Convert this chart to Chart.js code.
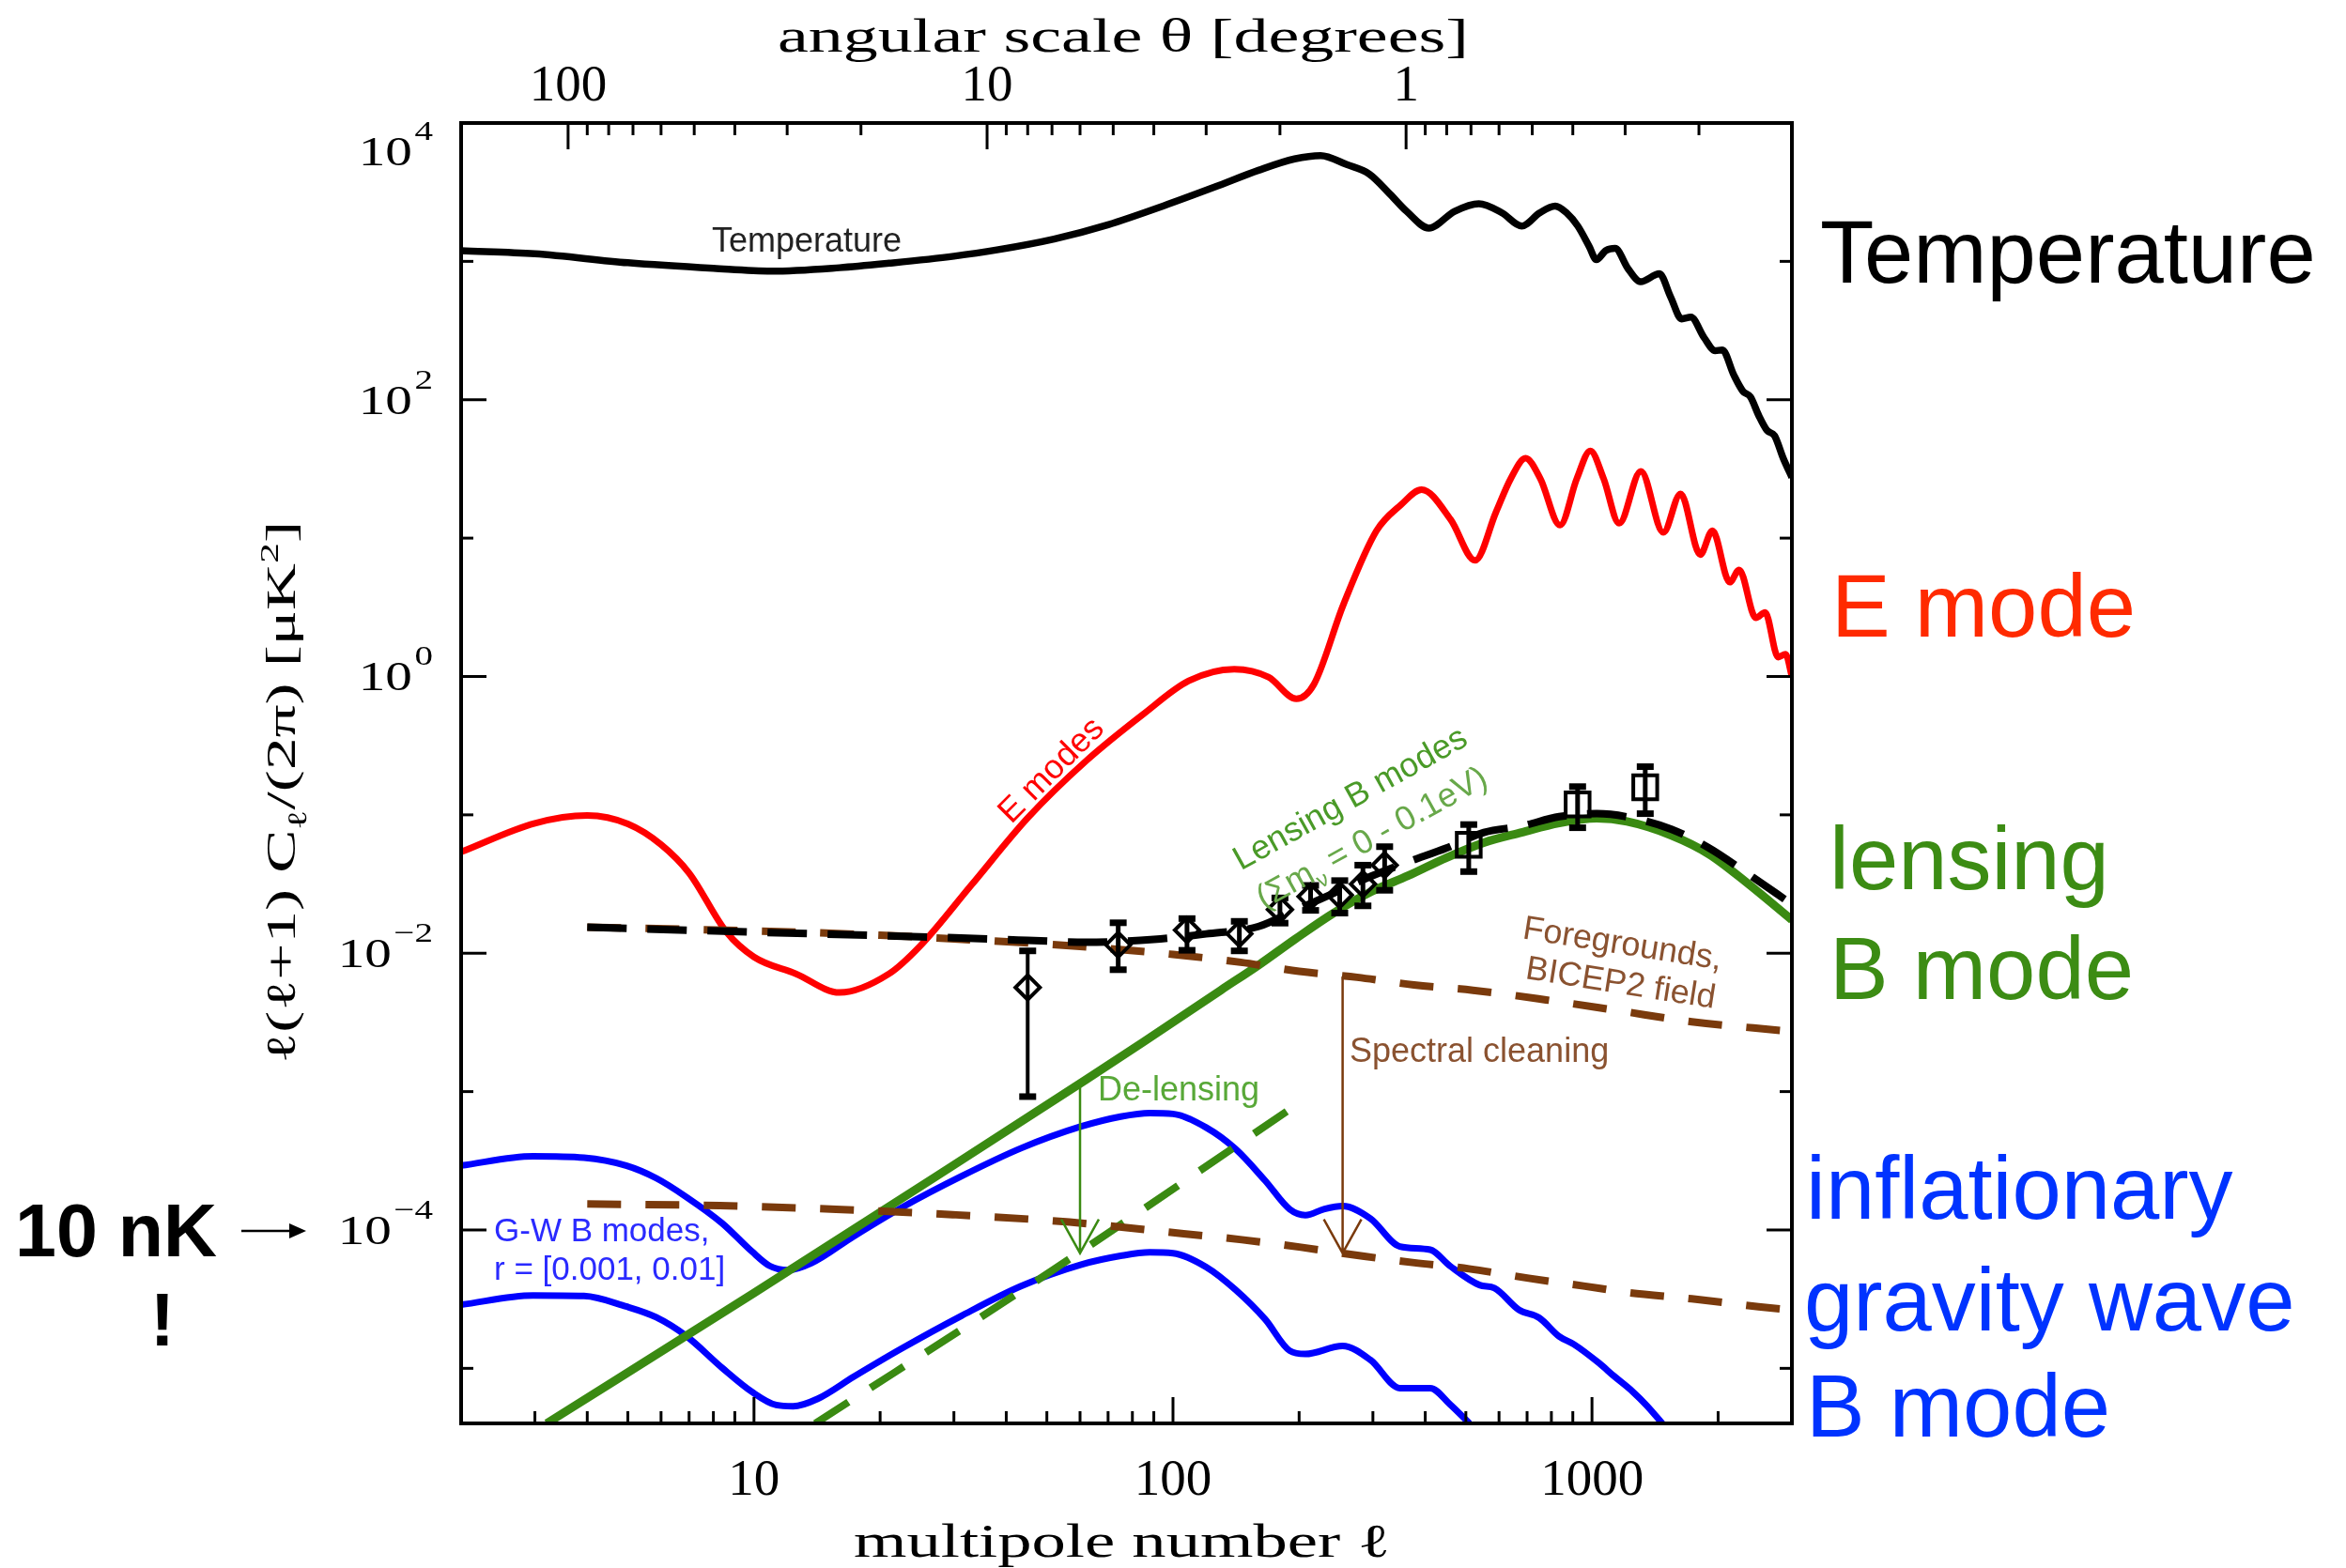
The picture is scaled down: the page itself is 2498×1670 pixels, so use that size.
<!DOCTYPE html>
<html>
<head>
<meta charset="utf-8">
<title>CMB power spectra</title>
<script src="https://cdn.jsdelivr.net/npm/chart.js@4.4.1/dist/chart.umd.min.js"></script>
<style>
  html, body { margin: 0; padding: 0; background: #fff; }
  canvas { display: block; }
</style>
</head>
<body>
<canvas id="spectra" width="2498" height="1670"></canvas>
<script>
// l(l+1) C_l / 2pi in uK^2, against multipole l

// temperature
const tempEll = [2, 3, 5, 8, 11, 16, 21, 30, 38, 52, 70, 95, 126, 160, 195, 225, 260, 294, 330, 361,
  408, 470, 537, 610, 680, 750, 817, 870, 925, 985, 1024, 1080, 1135, 1220, 1306, 1449, 1540, 1637, 1722, 1850,
  1968, 2047, 2180, 2293, 2388, 2500, 2617, 2727, 2860, 3000];
const tempPower = [1195, 1135, 977, 890, 850, 900, 970, 1090, 1210, 1450, 1840, 2520, 3450, 4550, 5500, 5820, 5000, 4280, 3050, 2300,
  1740, 2300, 2610, 2240, 1800, 2240, 2510, 2240, 1800, 1280, 1030, 1200, 1240, 883, 713, 813, 555, 384, 395, 282,
  226, 229, 151, 115, 105, 77, 60, 55, 37.8, 27.5];

// E modes
const eEll = [2, 3, 4, 5, 6, 7, 8.6, 10, 12.6, 16, 21, 25, 33, 45, 62, 85, 109, 140, 169, 197,
  217, 255, 306, 350, 392, 460, 526, 590, 640, 694, 753, 839, 920, 991, 1066, 1161, 1308, 1480, 1627, 1813,
  1938, 2132, 2245, 2461, 2590, 2781, 2897, 3000];
const ePower = [0.054, 0.087, 0.099, 0.086, 0.061, 0.038, 0.0142, 0.0094, 0.0071, 0.0052, 0.0071, 0.0114, 0.031, 0.095, 0.245, 0.535, 0.93, 1.13, 0.99, 0.69,
  0.88, 3.3, 11.3, 17.4, 22.4, 13.6, 6.9, 15.4, 26.9, 37.8, 26.9, 12.4, 26.9, 42.7, 26.9, 12.8, 30.4, 11.0, 20.9, 7.6,
  11.3, 4.8, 5.9, 2.65, 2.9, 1.38, 1.45, 1.0];

// lensing B modes and the de-lensed residual
const lensEll = [3.2, 10, 30, 62, 85, 130, 160, 196, 241, 297, 364, 449, 552, 679, 835, 1027, 1212, 1548, 1904, 2340, 3000];
const lensPower = [4.0e-6, 3.5e-5, 2.95e-4, 1.22e-3, 2.28e-3, 5.4e-3, 8.2e-3, 0.0127, 0.0194, 0.0278, 0.0363, 0.049, 0.063, 0.0746, 0.0873, 0.0944, 0.0895, 0.071, 0.0519, 0.0324, 0.0174];
const delensEll = [14, 52, 187];
const delensPower = [4.0e-6, 5.2e-5, 7.2e-4];

// gravity-wave B modes, r = 0.01 and r = 0.001
const gwHighEll = [2, 2.97, 3.93, 4.95, 5.84, 6.88, 8.39, 9.89, 10.9, 12.05, 13.7, 17.3, 22.5, 31.3, 43.4, 60.4, 75, 88, 100, 120,
  141, 166, 190, 207, 230, 254, 296, 348, 411, 458, 539, 585, 669, 748, 835, 906, 1040, 1128, 1250, 1350, 1472];
const gwHighPower = [2.92e-4, 3.41e-4, 3.33e-4, 2.92e-4, 2.37e-4, 1.74e-4, 1.12e-4, 6.98e-5, 5.5e-5, 5.13e-5, 5.75e-5, 9.0e-5, 1.45e-4, 2.45e-4, 3.9e-4, 5.6e-4, 6.6e-4, 7.0e-4, 6.9e-4, 5.5e-4,
  3.85e-4, 2.27e-4, 1.41e-4, 1.28e-4, 1.42e-4, 1.49e-4, 1.21e-4, 7.6e-5, 7.2e-5, 5.5e-5, 4.0e-5, 3.8e-5, 2.65e-5, 2.32e-5, 1.70e-5, 1.49e-5, 1.09e-5, 8.8e-6, 6.8e-6, 5.4e-6, 4.0e-6];
const gwLowEll = [2, 2.97, 3.93, 4.95, 5.84, 6.88, 8.39, 9.89, 11.3, 12.4, 14.2, 17.3, 22.5, 31.3, 43.4, 60.4, 75, 88, 100, 120,
  141, 166, 190, 207, 254, 296, 348, 411, 458, 510];
const gwLowPower = [2.88e-5, 3.36e-5, 3.33e-5, 2.8e-5, 2.34e-5, 1.72e-5, 1.01e-5, 6.76e-6, 5.43e-6, 5.32e-6, 6.03e-6, 8.7e-6, 1.39e-5, 2.4e-5, 3.93e-5, 5.62e-5, 6.5e-5, 6.9e-5, 6.8e-5, 5.4e-5,
  3.7e-5, 2.26e-5, 1.34e-5, 1.27e-5, 1.45e-5, 1.15e-5, 7.2e-6, 7.2e-6, 5.5e-6, 4.0e-6];

// foregrounds in the BICEP2 field, before and after spectral cleaning
const fgHighEll = [4, 10, 20, 30, 60, 100, 145, 200, 275, 376, 520, 777, 1160, 1730, 2880];
const fgHighPower = [0.0154, 0.0145, 0.0135, 0.0127, 0.0112, 0.0098, 0.0086, 0.0074, 0.0067, 0.0059, 0.0054, 0.0046, 0.00384, 0.0032, 0.00275];
const fgLowEll = [4.0, 8.3, 15.7, 29.8, 56.6, 106, 146, 202, 286, 377, 509, 706, 954, 1219, 1730, 2497, 2970];
const fgLowPower = [1.54e-4, 1.50e-4, 1.41e-4, 1.29e-4, 1.14e-4, 9.4e-5, 8.5e-5, 7.5e-5, 6.45e-5, 5.8e-5, 5.24e-5, 4.48e-5, 3.94e-5, 3.53e-5, 3.18e-5, 2.79e-5, 2.64e-5];

// lensing + foregrounds
const totalEll = [4, 10, 26, 45, 62, 90, 120, 160, 196, 241, 297, 364, 449, 552, 679, 835, 1027, 1263, 1548, 1904, 2340, 3000];
const totalPower = [0.0154, 0.0142, 0.0131, 0.0124, 0.0120, 0.0126, 0.0138, 0.0156, 0.0205, 0.027, 0.036, 0.0457, 0.0575, 0.0746, 0.083, 0.097, 0.102, 0.0944, 0.0787, 0.0575, 0.038, 0.0226];

// measured B-mode band powers with error bars
const bandEll = [45, 74, 108, 144, 180, 213, 250, 284, 320, 508, 924, 1340];
const bandPower = [0.00566, 0.0115, 0.0147, 0.0138, 0.0207, 0.0257, 0.0263, 0.0316, 0.0433, 0.0607, 0.119, 0.158];
const bandLow = [9.2e-4, 0.0076, 0.0105, 0.0104, 0.0165, 0.0204, 0.0195, 0.022, 0.0285, 0.0389, 0.0807, 0.102];
const bandHigh = [0.0104, 0.0166, 0.0178, 0.017, 0.0251, 0.0309, 0.0335, 0.0433, 0.0589, 0.0851, 0.16, 0.223];
const bandMarker = ['rectRot', 'rectRot', 'rectRot', 'rectRot', 'rectRot', 'rectRot', 'rectRot', 'rectRot', 'rectRot', 'rect', 'rect', 'rect'];

// axis labels
const ellLabels = [10, 100, 1000];
const thetaLabels = [100, 10, 1];
const powerExponents = [4, 2, 0, -2, -4];

// upper axis: angular scale theta = 360 deg / l
const DEG_PER_ELL = 360;

// arrows: de-lensing and spectral cleaning
const delensArrow = { ell: 60, from: 1.1e-3, to: 6.8e-5 };
const cleanArrow = { ell: 254, from: 6.8e-3, to: 6.8e-5 };

const SERIF = '"Liberation Serif", "Times New Roman", serif';
const SANS = '"Liberation Sans", Arial, Helvetica, sans-serif';
const ink = {
  black: '#000000', red: '#ff0000', green: '#3a8a12', blue: '#0000ff', brown: '#7a3a0c',
  eText: '#ff2a00', lensText: '#3c8c14', gwText: '#0033ff', fgText: '#8a5230'
};

function pts(ell, pow) {
  return ell.map((l, i) => ({ x: l, y: pow[i] }));
}

function curve(label, ell, pow, color, width, dash) {
  return {
    label,
    data: pts(ell, pow),
    borderColor: color,
    borderWidth: width,
    borderDash: dash || [],
    borderCapStyle: 'butt',
    borderJoinStyle: 'round',
    pointRadius: 0,
    fill: false,
    cubicInterpolationMode: 'monotone'
  };
}

// plain text, optionally rotated and squeezed/stretched to a given width
function text(ctx, str, x, y, font, color, opts = {}) {
  ctx.save();
  ctx.translate(x, y);
  if (opts.angle) ctx.rotate(opts.angle * Math.PI / 180);
  ctx.font = font;
  ctx.fillStyle = color;
  ctx.textAlign = opts.align || 'left';
  ctx.textBaseline = 'alphabetic';
  if (opts.width) ctx.scale(opts.width / ctx.measureText(str).width, 1);
  ctx.fillText(str, 0, 0);
  ctx.restore();
}

// text made of pieces with sub/superscripts
function richText(ctx, parts, x, y, o) {
  ctx.save();
  ctx.translate(x, y);
  if (o.angle) ctx.rotate(o.angle * Math.PI / 180);
  const small = Math.round(o.size * 0.64);
  const fontFor = p => ((p.sub || p.sup) ? small : o.size) + 'px ' + o.family;
  let w = 0;
  parts.forEach(p => { ctx.font = fontFor(p); w += ctx.measureText(p.t).width; });
  if (o.width) ctx.scale(o.width / w, 1);
  let cx = o.align === 'center' ? -w / 2 : 0;
  ctx.fillStyle = o.color;
  ctx.textAlign = 'left';
  ctx.textBaseline = 'alphabetic';
  parts.forEach(p => {
    ctx.font = fontFor(p);
    const dy = p.sub ? o.size * 0.28 : (p.sup ? -o.size * 0.42 : 0);
    ctx.fillText(p.t, cx, dy);
    cx += ctx.measureText(p.t).width;
  });
  ctx.restore();
}

function seg(ctx, x0, y0, x1, y1) {
  ctx.beginPath();
  ctx.moveTo(x0, y0);
  ctx.lineTo(x1, y1);
  ctx.stroke();
}

function arrowDown(ctx, x, y0, y1, color) {
  ctx.save();
  ctx.strokeStyle = color;
  ctx.lineWidth = 2.5;
  ctx.beginPath();
  ctx.moveTo(x, y0);
  ctx.lineTo(x, y1);
  ctx.moveTo(x - 20, y1 - 36);
  ctx.lineTo(x, y1);
  ctx.lineTo(x + 20, y1 - 36);
  ctx.stroke();
  ctx.restore();
}

const isDecade = v => Math.abs(Math.log10(v) - Math.round(Math.log10(v))) < 1e-6;

// tick positions: 1..9 times each decade
function decadeSteps(lo, hi) {
  const out = [];
  for (let d = Math.floor(Math.log10(lo)); d <= Math.ceil(Math.log10(hi)); d++) {
    for (let m = 1; m <= 9; m++) {
      const v = +(m * Math.pow(10, d)).toPrecision(6);
      if (v >= lo && v <= hi) out.push(v);
    }
  }
  return out;
}

// error bars and the two cleaning arrows
const overlays = {
  id: 'overlays',
  afterDatasetsDraw(chart) {
    const { ctx, scales: { x, y } } = chart;
    arrowDown(ctx, x.getPixelForValue(delensArrow.ell), y.getPixelForValue(delensArrow.from), y.getPixelForValue(delensArrow.to), ink.green);
    arrowDown(ctx, x.getPixelForValue(cleanArrow.ell), y.getPixelForValue(cleanArrow.from), y.getPixelForValue(cleanArrow.to), ink.brown);

    ctx.save();
    ctx.strokeStyle = '#000';
    bandEll.forEach((l, i) => {
      const px = x.getPixelForValue(l);
      const top = y.getPixelForValue(bandHigh[i]);
      const bot = y.getPixelForValue(bandLow[i]);
      ctx.lineWidth = i === 0 ? 4 : 5;
      seg(ctx, px, top, px, bot);
      ctx.lineWidth = 7;
      seg(ctx, px - 9, top, px + 9, top);
      seg(ctx, px - 9, bot, px + 9, bot);
    });
    ctx.restore();
  }
};

// frame, ticks, axis titles and all the text around the plot
const frame = {
  id: 'frame',
  afterDraw(chart) {
    const { ctx, chartArea: a, scales: { x, y } } = chart;
    ctx.save();
    ctx.strokeStyle = '#000';
    ctx.lineCap = 'butt';

    // multipole ticks (bottom)
    ctx.lineWidth = 3;
    decadeSteps(x.min, x.max).forEach(l => {
      const px = x.getPixelForValue(l);
      seg(ctx, px, a.bottom, px, a.bottom - (isDecade(l) ? 28 : 13));
    });
    // angular scale ticks (top)
    decadeSteps(DEG_PER_ELL / x.max, DEG_PER_ELL / x.min).forEach(t => {
      const px = x.getPixelForValue(DEG_PER_ELL / t);
      seg(ctx, px, a.top, px, a.top + (isDecade(t) ? 28 : 13));
    });
    // power ticks, both sides
    for (let e = Math.ceil(Math.log10(y.min)); e <= Math.log10(y.max); e++) {
      const py = y.getPixelForValue(Math.pow(10, e));
      const len = powerExponents.includes(e) ? 27 : 13;
      seg(ctx, a.left, py, a.left + len, py);
      seg(ctx, a.right, py, a.right - len, py);
    }

    ctx.lineWidth = 4;
    ctx.strokeRect(a.left, a.top, a.right - a.left, a.bottom - a.top);

    // tick labels
    ellLabels.forEach(l => {
      text(ctx, String(l), x.getPixelForValue(l), a.bottom + 76, '55px ' + SERIF, '#000', { align: 'center' });
    });
    thetaLabels.forEach(t => {
      text(ctx, String(t), x.getPixelForValue(DEG_PER_ELL / t), a.top - 24, '55px ' + SERIF, '#000', { align: 'center' });
    });
    powerExponents.forEach(e => {
      const py = y.getPixelForValue(Math.pow(10, e));
      const shift = Math.max(0, (a.top + 2) - (py - 28));
      const sup = e < 0 ? '\u2212' + (-e) : String(e);
      ctx.save();
      ctx.translate(a.left - 30, py + shift);
      ctx.scale(1.3, 1);
      ctx.fillStyle = '#000';
      ctx.textAlign = 'right';
      ctx.textBaseline = 'alphabetic';
      ctx.font = '30px ' + SERIF;
      const sw = ctx.measureText(sup).width;
      ctx.fillText(sup, 0, -12);
      ctx.font = '44px ' + SERIF;
      ctx.fillText('10', -sw - 2, 15);
      ctx.restore();
    });

    // axis titles
    text(ctx, 'multipole number \u2113', (a.left + a.right) / 2 - 5, 1658, '50px ' + SERIF, '#000', { align: 'center', width: 571 });
    text(ctx, 'angular scale \u03b8 [degrees]', 1196, 55, '50px ' + SERIF, '#000', { align: 'center', width: 736 });
    richText(ctx, [
      { t: '\u2113(\u2113+1) C' }, { t: '\u2113', sub: true }, { t: '/(2\u03c0) [\u03bcK' }, { t: '2', sup: true }, { t: ']' }
    ], 314, 844, { size: 44, family: SERIF, angle: -90, align: 'center', width: 578, color: '#000' });

    // labels inside the plot
    text(ctx, 'Temperature', 758, 268, '36px ' + SANS, '#222');
    text(ctx, 'E modes', 1127, 828, '36px ' + SANS, ink.red, { angle: -45, align: 'center' });
    text(ctx, 'Lensing B modes', 1443, 860, '36px ' + SANS, '#4a9a28', { angle: -29, align: 'center' });
    richText(ctx, [{ t: '(\u03a3m' }, { t: '\u03bd', sub: true }, { t: ' = 0 - 0.1eV)' }], 1466, 902,
      { size: 36, family: SANS, angle: -29, align: 'center', color: '#68a84a' });
    text(ctx, 'Foregrounds,', 1726, 1016, '36px ' + SANS, ink.fgText, { angle: 9, align: 'center' });
    text(ctx, 'BICEP2 field', 1724, 1058, '36px ' + SANS, ink.fgText, { angle: 9, align: 'center' });
    text(ctx, 'Spectral cleaning', 1437, 1131, '36px ' + SANS, ink.fgText);
    text(ctx, 'De-lensing', 1169, 1172, '36px ' + SANS, '#58a838');
    text(ctx, 'G-W B modes,', 526, 1322, '35px ' + SANS, '#2a2aff');
    text(ctx, 'r = [0.001, 0.01]', 526, 1363, '35px ' + SANS, '#2a2aff');

    // labels to the right
    const big = '94px ' + SANS;
    text(ctx, 'Temperature', 1938, 301, big, '#000');
    text(ctx, 'E mode', 1950, 678, big, ink.eText);
    text(ctx, 'lensing', 1948, 947, big, ink.lensText);
    text(ctx, 'B mode', 1948, 1064, big, ink.lensText);
    text(ctx, 'inflationary', 1923, 1298, big, ink.gwText);
    text(ctx, 'gravity wave', 1921, 1417, big, ink.gwText);
    text(ctx, 'B mode', 1923, 1530, big, ink.gwText);

    // 10 nK marker on the left
    text(ctx, '10 nK', 16, 1338, 'bold 79px ' + SANS, '#000');
    text(ctx, '!', 173, 1433, 'bold 79px ' + SANS, '#000', { align: 'center' });
    const ay = y.getPixelForValue(1e-4) + 1;
    ctx.lineWidth = 2.5;
    seg(ctx, 257, ay, 312, ay);
    ctx.fillStyle = '#000';
    ctx.beginPath();
    ctx.moveTo(326, ay);
    ctx.lineTo(308, ay - 8);
    ctx.lineTo(308, ay + 8);
    ctx.closePath();
    ctx.fill();

    ctx.restore();
  }
};

const bandSet = {
  label: 'band powers',
  data: pts(bandEll, bandPower),
  showLine: false,
  pointStyle: bandMarker,
  pointRadius: bandMarker.map(s => (s === 'rect' ? 18 : 13)),
  pointBorderWidth: 4,
  borderColor: '#000',
  pointBorderColor: '#000',
  pointBackgroundColor: 'rgba(255,255,255,0)'
};

new Chart(document.getElementById('spectra'), {
  type: 'line',
  data: {
    datasets: [
      bandSet,
      curve('lensing + foregrounds', totalEll, totalPower, ink.black, 8, [42, 22]),
      curve('foregrounds', fgHighEll, fgHighPower, ink.brown, 8, [36, 26]),
      curve('cleaned foregrounds', fgLowEll, fgLowPower, ink.brown, 8, [36, 26]),
      curve('lensing B', lensEll, lensPower, ink.green, 9),
      curve('de-lensed B', delensEll, delensPower, ink.green, 8, [42, 28]),
      curve('GW B, r=0.01', gwHighEll, gwHighPower, ink.blue, 7),
      curve('GW B, r=0.001', gwLowEll, gwLowPower, ink.blue, 7),
      curve('E', eEll, ePower, ink.red, 7),
      curve('TT', tempEll, tempPower, ink.black, 7.5)
    ]
  },
  options: {
    responsive: false,
    animation: false,
    devicePixelRatio: 1,
    layout: { padding: { left: 491, right: 590, top: 131, bottom: 154 } },
    plugins: { legend: { display: false }, tooltip: { enabled: false } },
    scales: {
      x: { type: 'logarithmic', min: 2, max: 3000, display: false },
      y: { type: 'logarithmic', min: 4e-6, max: 1e4, display: false }
    }
  },
  plugins: [overlays, frame]
});
</script>
</body>
</html>
